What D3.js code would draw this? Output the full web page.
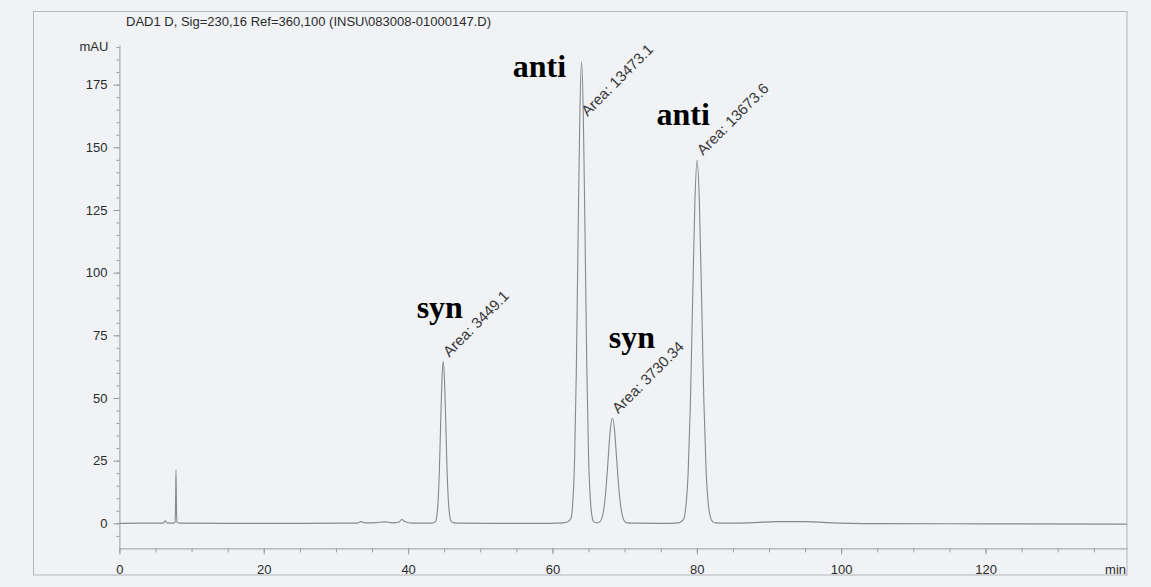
<!DOCTYPE html>
<html>
<head>
<meta charset="utf-8">
<script src="https://cdn.jsdelivr.net/npm/d3@7"></script>
<style>
  html, body { margin: 0; padding: 0; background: #f0f2f5; }
  svg { display: block; }
</style>
</head>
<body>
<svg id="chart" width="1151" height="587"></svg>
<script>
// ---- Data (time in min, signal in mAU) ----
const baselineLeft = [[0,0],[3,0.1],[6.1,0.1],[6.35,1.0],[6.6,0.2],[7.5,0.1],[8.3,0.1],[15,0],[25,0],[33,0.1],[33.5,0.7],[34,0.2],[35.5,0.3],[36.8,0.6],[37.8,0.2],[38.7,0.4],[39.1,1.5],[39.6,0.6],[40.5,0.1],[43.3,0.1]];
const spikePeak = [[7.72,0.5],[7.78,8],[7.84,21.3],[7.9,8],[7.96,0.5]];
const synPeak1 = [[43.79,0.7],[43.97,2.8],[44.15,8.7],[44.33,20.9],[44.50,39.1],[44.68,56.9],[44.86,64.5],[45.04,57.2],[45.22,39.8],[45.39,21.8],[45.57,9.4],[45.75,3.3],[45.93,1.0],[46.2,0.3]];
const baselineMid1 = [[46.6,0.1],[52,0],[58,0],[61.5,0.2],[62.1,0.6]];
const antiPeak1 = [[62.57,2.0],[62.81,8.1],[63.06,24.9],[63.30,59.8],[63.54,111.7],[63.79,162.5],[64.03,184.1],[64.27,163.5],[64.52,113.5],[64.76,62.0],[65.00,27.0],[65.25,9.5],[65.49,2.6],[65.73,0.6]];
const baselineMid2 = [[66.1,0.2]];
const synPeak2 = [[66.52,0.5],[66.82,1.8],[67.12,5.7],[67.41,13.6],[67.71,25.4],[68.00,37.0],[68.30,41.9],[68.60,37.2],[68.89,25.8],[69.19,14.2],[69.48,6.2],[69.78,2.1],[70.08,0.6],[70.37,0.2]];
const baselineMid3 = [[71,0.1],[75,0],[77.5,0.2]];
const antiPeak2 = [[78.16,1.6],[78.47,6.4],[78.79,19.6],[79.10,47.0],[79.41,87.9],[79.73,127.9],[80.04,144.9],[80.35,128.5],[80.67,89.0],[80.98,48.5],[81.29,20.8],[81.61,7.2],[81.92,2.1],[82.23,0.6],[82.6,0.2]];
const baselineRight = [[84,0.1],[88,0.3],[91,0.7],[95,0.7],[98,0.3],[105,-0.1],[120,-0.2],[139.6,-0.3]];

const xMajorTicks = [0,20,40,60,80,100,120];
const yMajorTicks = [0,25,50,75,100,125,150,175];
const xUnit = "min";
const yUnit = "mAU";
const titleText = "DAD1 D, Sig=230,16 Ref=360,100 (INSU\\083008-01000147.D)";

const areaLabels = [
  {t:44.86, v:64.5,  text:"Area: 3449.1"},
  {t:64.03, v:160.5, text:"Area: 13473.1"},
  {t:68.30, v:41.9,  text:"Area: 3730.34"},
  {t:80.04, v:144.9, text:"Area: 13673.6"}
];
const peakNames = [
  {t:41.18, v:81.8,  text:"syn"},
  {t:54.5,  v:178.1, text:"anti"},
  {t:67.81, v:69.8,  text:"syn"},
  {t:74.42, v:158.9, text:"anti"}
];

// ---- Drawing ----
const svg = d3.select("#chart");
const W = 1151, H = 587;
svg.append("rect").attr("width", W).attr("height", H).attr("fill", "#f0f2f5");

const x = d3.scaleLinear().domain([0, 139.6]).range([119.4, 1127]);
const y = d3.scaleLinear().domain([-10, 190.8]).range([548.4, 45]);

const axisColor = "#9a9da3";
const textColor = "#2b2b2b";
const font = "'Liberation Sans', Arial, sans-serif";

// outer frame
svg.append("rect")
  .attr("x", 33.5).attr("y", 11.5)
  .attr("width", x.range()[1] - 33.5).attr("height", 575 - 11.5)
  .attr("fill", "none").attr("stroke", "#b4b7bc").attr("stroke-width", 1);

// title
svg.append("text")
  .attr("x", 126).attr("y", 26)
  .attr("font-family", font).attr("font-size", 13).attr("fill", textColor)
  .text(titleText);

// x axis
const xMinor = d3.range(0, 136, 5);
const gx = svg.append("g").attr("transform", `translate(0,${y.range()[0]})`);
gx.append("g").call(d3.axisBottom(x).tickValues(xMinor).tickSize(4).tickFormat(""))
  .call(g => g.select(".domain").remove());
gx.append("g").call(d3.axisBottom(x).tickValues(xMajorTicks).tickSize(6).tickSizeOuter(0).tickPadding(10).tickFormat(d3.format("d")));
gx.selectAll("line,path").attr("stroke", axisColor);
gx.selectAll("text").attr("font-family", font).attr("font-size", 13).attr("fill", textColor);
gx.append("text").attr("x", x.range()[1] - 1).attr("y", 25.6)
  .attr("text-anchor", "end").attr("font-family", font).attr("font-size", 13).attr("fill", textColor)
  .text(xUnit);

// y axis
const yMinor = d3.range(-5, 191, 5);
const gy = svg.append("g").attr("transform", `translate(${x.range()[0]},0)`);
gy.append("g").call(d3.axisLeft(y).tickValues(yMinor).tickSize(3).tickFormat(""))
  .call(g => g.select(".domain").remove());
gy.append("g").call(d3.axisLeft(y).tickValues(yMajorTicks).tickSize(6).tickSizeOuter(0).tickPadding(6).tickFormat(d3.format("d")));
gy.selectAll("line,path").attr("stroke", axisColor);
gy.selectAll("text").attr("font-family", font).attr("font-size", 13).attr("fill", textColor);
gy.append("text").attr("x", -11).attr("y", y(190)).attr("dy", "0.32em")
  .attr("text-anchor", "end").attr("font-family", font).attr("font-size", 13).attr("fill", textColor)
  .text(yUnit);

// trace
const trace = [].concat(baselineLeft, spikePeak, synPeak1, baselineMid1, antiPeak1, baselineMid2,
                        synPeak2, baselineMid3, antiPeak2, baselineRight)
  .sort((a, b) => a[0] - b[0]);
const line = d3.line().x(d => x(d[0])).y(d => y(d[1])).curve(d3.curveMonotoneX);
svg.append("path").datum(trace)
  .attr("d", line).attr("fill", "none").attr("stroke", "#85888d").attr("stroke-width", 1.1);

// area labels (rotated)
svg.append("g").selectAll("text").data(areaLabels).join("text")
  .attr("transform", d => `translate(${x(d.t) + 6},${y(d.v) - 4}) rotate(-45)`)
  .attr("font-family", font).attr("font-size", 15).attr("fill", "#3a3a3a")
  .text(d => d.text);

// peak names
svg.append("g").selectAll("text").data(peakNames).join("text")
  .attr("x", d => x(d.t)).attr("y", d => y(d.v))
  .attr("font-family", "'Liberation Serif', 'Times New Roman', serif")
  .attr("font-weight", "bold").attr("font-size", 32).attr("fill", "#000")
  .text(d => d.text);
</script>
</body>
</html>
